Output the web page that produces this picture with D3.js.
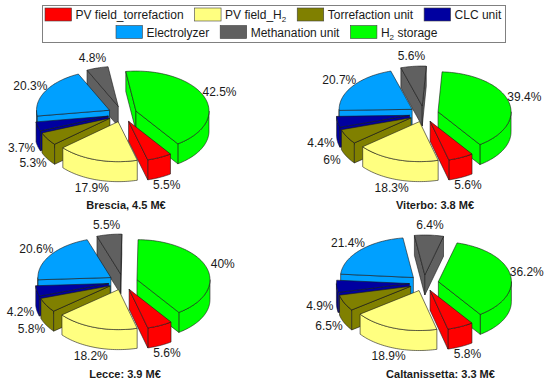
<!DOCTYPE html>
<html>
<head>
<meta charset="utf-8">
<script src="https://cdn.jsdelivr.net/npm/d3@7"></script>
<style>
  body { margin: 0; background: #fff; }
  text { font-family: "Liberation Sans", Arial, sans-serif; fill: #1a1a1a; }
</style>
</head>
<body>
<script>
// legend / slice order, clockwise starting at the red slice
const components = ["PV field_torrefaction", "PV field_H2", "Torrefaction unit", "CLC unit",
    "Electrolyzer", "Methanation unit", "H2 storage"];
const colors = ["#ff0000", "#ffff80", "#808000", "#0000a0", "#00a0ff", "#606060", "#00ff00"];

// cost shares in %, same order as components
const brescia = [5.5, 17.9, 5.3, 3.7, 20.3, 4.8, 42.5];
const viterbo = [5.6, 18.3, 6, 4.4, 20.7, 5.6, 39.4];
const lecce = [5.6, 18.2, 5.8, 4.2, 20.6, 5.5, 40];
const caltanissetta = [5.8, 18.9, 6.5, 4.9, 21.4, 6.4, 36.2];

const titles = ["Brescia, 4.5 M€", "Viterbo: 3.8 M€", "Lecce: 3.9 M€", "Caltanissetta: 3.3 M€"];

const width = 550, height = 383;

// pie geometry
const rx = 73, ry = 40, depth = 20;
const explode = 0.2, labelFactor = 1.23;
const startAngle = 145 * Math.PI / 180;

const svg = d3.select("body").append("svg")
    .attr("width", width)
    .attr("height", height);

const color = d3.scaleOrdinal().domain(components).range(colors);
const pie = d3.pie().sort(null)
    .startAngle(startAngle)
    .endAngle(startAngle + 2 * Math.PI);
const line = d3.line();

// project an angle (clockwise from the top) on the ellipse
const px = a => rx * Math.sin(a);
const py = a => -ry * Math.cos(a);

function drawPie(values, cx, cy, title, titleX, titleY) {
    const g = svg.append("g");
    const slices = pie(values).map(function(d, i) {
        const mid = (d.startAngle + d.endAngle) / 2;
        return {
            i: i, value: d.value, a0: d.startAngle, a1: d.endAngle, mid: mid,
            x: cx + explode * px(mid),
            y: cy + explode * py(mid)
        };
    });

    // back to front so nearer slices cover the ones behind
    slices.slice().sort((a, b) => a.y - b.y).forEach(function(s) {
        const fill = colors[s.i];
        const sg = g.append("g");
        const rim = (a, z) => [s.x + px(a), s.y + py(a) + z];
        const poly = pts => sg.append("path")
            .attr("d", line(pts) + "Z")
            .attr("fill", fill)
            .attr("stroke", "#1a1a1a")
            .attr("stroke-width", 0.6)
            .attr("stroke-linejoin", "round");

        // outer wall, only the part on the front half
        [0, 1].forEach(function(k) {
            const from = Math.max(s.a0, Math.PI / 2 + 2 * Math.PI * k);
            const to = Math.min(s.a1, 3 * Math.PI / 2 + 2 * Math.PI * k);
            if (to <= from) return;
            const arc = d3.range(0, 41).map(t => from + (to - from) * t / 40);
            poly(arc.map(a => rim(a, 0)).concat(arc.slice().reverse().map(a => rim(a, depth))));
        });

        // radial walls, if they face the viewer
        if (Math.sin(s.a0) < 0) {
            poly([[s.x, s.y], rim(s.a0, 0), rim(s.a0, depth), [s.x, s.y + depth]]);
        }
        if (Math.sin(s.a1) > 0) {
            poly([[s.x, s.y], rim(s.a1, 0), rim(s.a1, depth), [s.x, s.y + depth]]);
        }

        // top face
        const n = Math.max(2, Math.ceil((s.a1 - s.a0) * 30));
        const top = d3.range(0, n + 1).map(t => rim(s.a0 + (s.a1 - s.a0) * t / n, 0));
        poly([[s.x, s.y]].concat(top));
    });

    // percent labels
    slices.forEach(function(s) {
        const drop = Math.cos(s.mid) < 0 ? depth : 0;
        g.append("text")
            .attr("x", s.x + labelFactor * px(s.mid))
            .attr("y", s.y + labelFactor * py(s.mid) + drop)
            .attr("text-anchor", "middle")
            .attr("dominant-baseline", "middle")
            .style("font-size", "12px")
            .text(s.value + "%");
    });

    // title
    g.append("text")
        .attr("x", titleX)
        .attr("y", titleY)
        .attr("text-anchor", "middle")
        .attr("dominant-baseline", "middle")
        .style("font-size", "11px")
        .style("font-weight", "bold")
        .text(title);
}

drawPie(brescia, 122.4, 114, titles[0], 126, 206);
drawPie(viterbo, 424, 114, titles[1], 435, 206);
drawPie(lecce, 123, 282, titles[2], 125, 375);
drawPie(caltanissetta, 424, 283, titles[3], 440.5, 375);

// legend
svg.append("rect")
    .attr("x", 42.5)
    .attr("y", 5.5)
    .attr("width", 463)
    .attr("height", 37)
    .attr("fill", "#fff")
    .attr("stroke", "#808080")
    .attr("stroke-width", 1);

function legendRow(names, startX, y) {
    let x = startX;
    names.forEach(function(name) {
        svg.append("rect")
            .attr("x", x)
            .attr("y", y)
            .attr("width", 26.5)
            .attr("height", 13)
            .attr("fill", color(name))
            .attr("stroke", "#404040")
            .attr("stroke-width", 0.6);

        const label = svg.append("text")
            .attr("x", x + 30.5)
            .attr("y", y + 11)
            .style("font-size", "12px");

        // H2 needs a real subscript
        if (name.endsWith("H2") || name.startsWith("H2")) {
            const parts = name.split("H2");
            label.append("tspan").text(parts[0] + "H");
            label.append("tspan").attr("dy", 3).style("font-size", "8px").text("2");
            if (parts[1]) label.append("tspan").attr("dy", -3).text(parts[1]);
        } else {
            label.text(name);
        }
        x += 30.5 + label.node().getComputedTextLength() + 11;
    });
}

legendRow(components.slice(0, 4), 45, 8);
legendRow(components.slice(4), 116, 25.5);
</script>
</body>
</html>
